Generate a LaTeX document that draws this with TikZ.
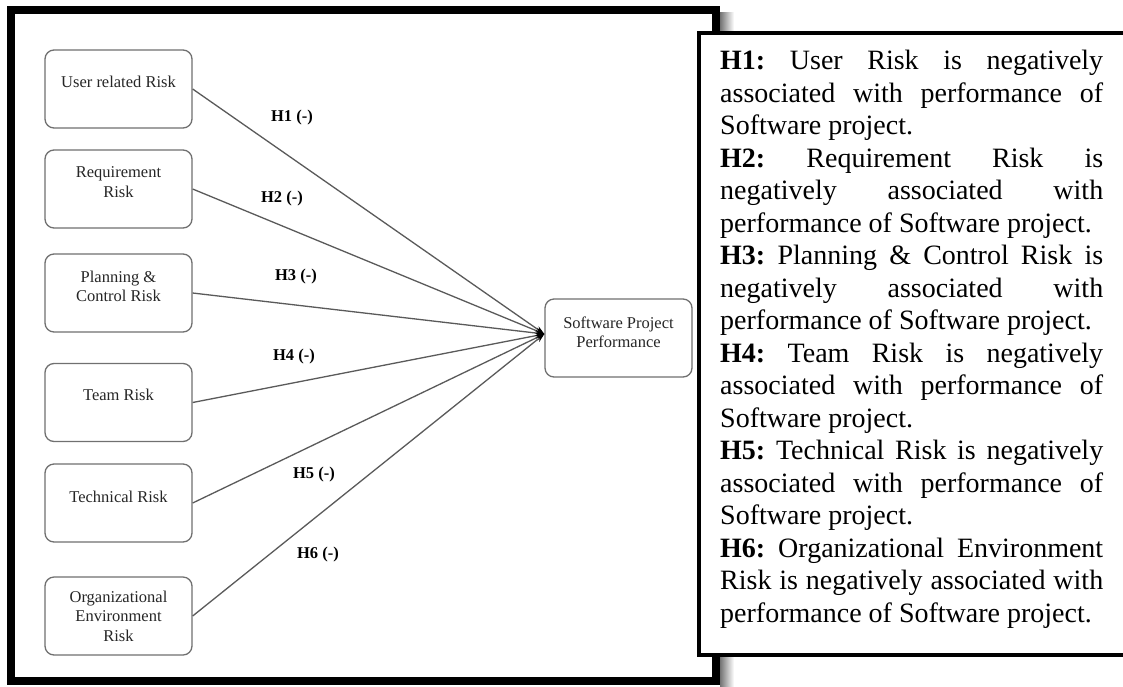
\documentclass[tikz,border=0pt]{standalone}
\usepackage{fontspec}
\setmainfont{Liberation Serif}
\usetikzlibrary{arrows.meta,calc}

\definecolor{boxgray}{HTML}{707070}
\definecolor{linkgray}{HTML}{5A5A5A}

% one fully justified line of the hypothesis list
\newcommand\jline[1]{\makebox[\linewidth][s]{#1}\\}

\begin{document}
\begin{tikzpicture}[x=1pt,y=-1pt,
  riskbox/.style={draw=boxgray, line width=1.3pt, rounded corners=9pt,
    minimum width=147pt, minimum height=78pt, inner sep=0pt},
  boxtext/.style={align=center, font=\fontsize{16.5}{19.5}\selectfont,
    text=black!85, inner sep=0pt},
  link/.style={draw=linkgray, line width=1.3pt,
    -{Stealth[length=9pt,width=6pt,color=black]}},
  hlabel/.style={font=\fontsize{16.5}{19.5}\selectfont\bfseries, inner sep=0pt},
]
\useasboundingbox (0,0) rectangle (1123,686);
\fill[white] (0,0) rectangle (1123,686);

% soft shadow on the right of the model frame
\shade[left color=black!55, right color=white] (720,12) rectangle (734,686);

% model frame
\draw[line width=8pt] (11,10) rectangle (716,681);

% risk factors
\node[riskbox] (r1) at (118.5,89) {};
\node[boxtext] (t1) at ($(r1.center)+(0,-7.5)$) {User related Risk};
\node[riskbox] (r2) at (118.5,189) {};
\node[boxtext] (t2) at ($(r2.center)+(0,-7)$) {Requirement\\Risk};
\node[riskbox] (r3) at (118.5,293) {};
\node[boxtext] (t3) at ($(r3.center)+(0,-6.5)$) {Planning \&\\Control Risk};
\node[riskbox] (r4) at (118.5,402.5) {};
\node[boxtext] (t4) at ($(r4.center)+(0,-8)$) {Team Risk};
\node[riskbox] (r5) at (118.5,503) {};
\node[boxtext] (t5) at ($(r5.center)+(0,-6.5)$) {Technical Risk};
\node[riskbox] (r6) at (118.5,616) {};
\node[boxtext] (t6) at (r6.center) {Organizational\\Environment\\Risk};

% outcome
\node[riskbox] (spp) at (618.5,338) {};
\node[boxtext] (tspp) at ($(spp.center)+(0,-5.5)$) {Software Project\\Performance};
\coordinate (tip) at ($(spp.west)+(0,-4)$);

% hypothesised paths
\draw[link] (r1.east) -- (tip);
\draw[link] (r2.east) -- (tip);
\draw[link] (r3.east) -- (tip);
\draw[link] (r4.east) -- (tip);
\draw[link] (r5.east) -- (tip);
\draw[link] (r6.east) -- (tip);

\node[hlabel] (h1) at (292,118) {H1 (-)};
\node[hlabel] (h2) at (282,199) {H2 (-)};
\node[hlabel] (h3) at (296,277) {H3 (-)};
\node[hlabel] (h4) at (294,357) {H4 (-)};
\node[hlabel] (h5) at (314,475) {H5 (-)};
\node[hlabel] (h6) at (318,555) {H6 (-)};

% hypotheses panel
\draw[line width=4pt, fill=white] (699,33) rectangle (1130,655);
\node[anchor=base west, inner sep=0pt] (hyps) at (720,69.5) {\parbox[t]{383pt}{%
\fontsize{28}{32.5}\selectfont\frenchspacing
\jline{\textbf{H1:} User Risk is negatively}
\jline{associated with performance of}
Software project.\\
\jline{\textbf{H2:} Requirement Risk is}
\jline{negatively associated with}
performance of Software project.\\
\jline{\textbf{H3:} Planning \& Control Risk is}
\jline{negatively associated with}
performance of Software project.\\
\jline{\textbf{H4:} Team Risk is negatively}
\jline{associated with performance of}
Software project.\\
\jline{\textbf{H5:} Technical Risk is negatively}
\jline{associated with performance of}
Software project.\\
\jline{\textbf{H6:} Organizational Environment}
\jline{Risk is negatively associated with}
performance of Software project.}};
\end{tikzpicture}
\end{document}
